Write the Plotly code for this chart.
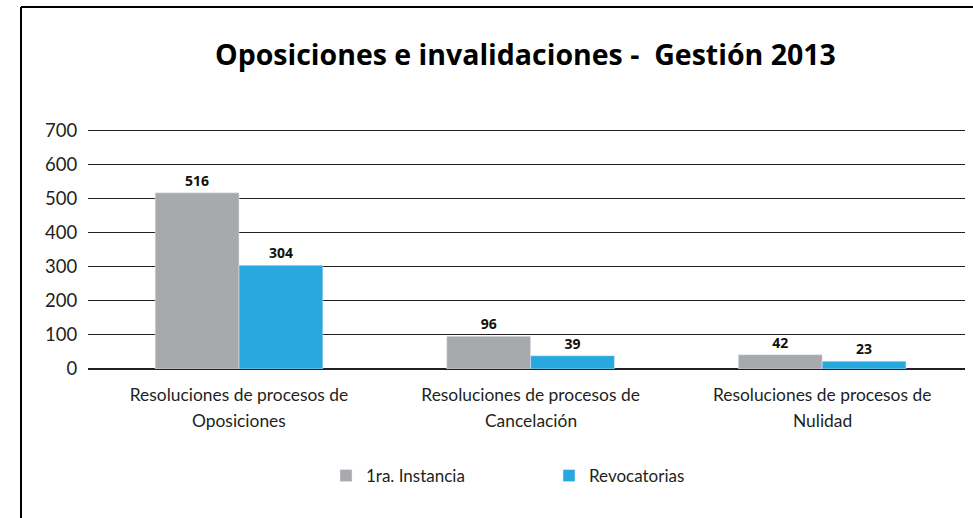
import plotly.graph_objects as go

categories = ["Resoluciones de procesos de<br>Oposiciones",
              "Resoluciones de procesos de<br>Cancelación",
              "Resoluciones de procesos de<br>Nulidad"]
primera_instancia = [516, 96, 42]
revocatorias = [304, 39, 23]
y_ticks = [0, 100, 200, 300, 400, 500, 600, 700]

W, H = 973, 518
L, R, T, B = 88, 8, 128, 149
pw, ph = W - L - R, H - T - B

def px(p):
    return (p - L) / pw

def py(q):
    return (H - B - q) / ph

line1 = [c.split("<br>")[0] for c in categories]
line2 = [c.split("<br>")[1] for c in categories]

fig = go.Figure()
fig.add_trace(go.Bar(name="1ra. Instancia", x=[0, 1, 2], y=primera_instancia,
                     marker_color="#a7a9ac", text=[f"<b>{v}</b>" for v in primera_instancia],
                     textposition="outside",
                     textfont=dict(family="Open Sans", size=14, color="#111"),
                     cliponaxis=False))
fig.add_trace(go.Bar(name="Revocatorias", x=[0, 1, 2], y=revocatorias,
                     marker_color="#29a8e0", text=[f"<b>{v}</b>" for v in revocatorias],
                     textposition="outside",
                     textfont=dict(family="Open Sans", size=14, color="#111"),
                     cliponaxis=False))

annotations = [dict(x=i, xref="x", y=py(420), yref="paper", text=t, showarrow=False,
                    xanchor="center", yanchor="middle",
                    font=dict(family="Lato", size=17.4, color="#231f20"))
               for i, t in enumerate(line2)]

fig.update_layout(
    width=W, height=H,
    margin=dict(l=L, r=R, t=T, b=B),
    paper_bgcolor="white", plot_bgcolor="white",
    barmode="group", bargap=0.425, bargroupgap=0,
    font=dict(family="Lato", color="#231f20"),
    title=dict(text="<b>Oposiciones e invalidaciones -  Gestión 2013</b>",
               x=0.54, xanchor="center", y=1 - 55 / H, yanchor="middle",
               font=dict(family="Open Sans", size=28.5, color="#000")),
    xaxis=dict(range=[-0.518, 2.49], tickvals=[0, 1, 2], ticktext=line1,
               showgrid=False, zeroline=False, showline=False, automargin=False,
               ticks="outside", ticklen=10, tickcolor="rgba(0,0,0,0)",
               tickfont=dict(family="Lato", size=17.4, color="#231f20")),
    yaxis=dict(range=[0, 706], tickvals=y_ticks, showgrid=True,
               gridcolor="#231f20", gridwidth=1, zeroline=True, automargin=False,
               zerolinecolor="#231f20", zerolinewidth=2,
               ticks="outside", ticklen=6, tickcolor="rgba(0,0,0,0)",
               tickfont=dict(family="Lato", size=18.5, color="#231f20")),
    legend=dict(orientation="h", x=px(326), xanchor="left", y=py(476), yanchor="middle",
                font=dict(family="Lato", size=17, color="#231f20"),
                entrywidth=178, entrywidthmode="pixels", traceorder="normal"),
    annotations=annotations,
    shapes=[
        dict(type="line", xref="paper", yref="paper", x0=px(21), x1=px(21),
             y0=py(518), y1=py(7), line=dict(color="#000", width=2)),
        dict(type="line", xref="paper", yref="paper", x0=px(21), x1=px(973),
             y0=py(7), y1=py(7), line=dict(color="#000", width=2)),
    ],
)

fig.write_html("out.html", config={"displayModeBar": False},
               post_script="document.body.style.margin='0';")
